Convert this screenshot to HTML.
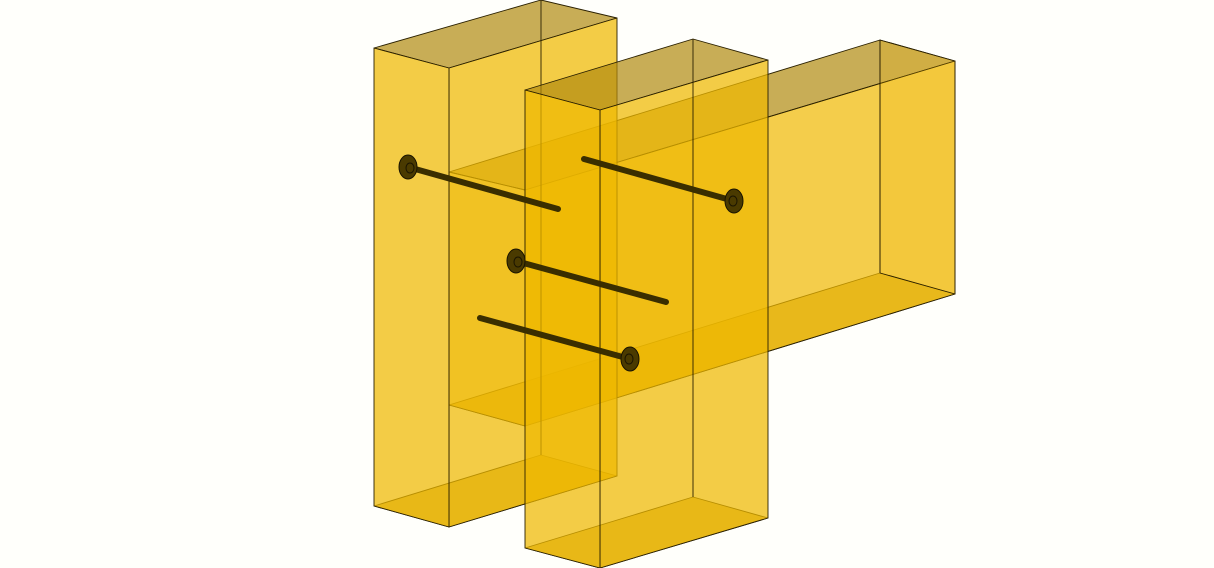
<!DOCTYPE html>
<html><head><meta charset="utf-8"><style>
html,body{margin:0;padding:0;background:#fffffb;}
svg{display:block}
</style></head><body>
<svg width="1214" height="568" viewBox="0 0 1214 568">
<g stroke="#2a2000" stroke-width="0.9" stroke-linejoin="round">
  <g>
    <polygon points="449,172 880,40 955,61 525,190" fill="#b08a10" fill-opacity="0.7"/>
    <polygon points="449,405 880,273 955,294 525,426" fill="#c9a01c" fill-opacity="0.72"/>
    <polygon points="525,190 955,61 955,294 525,426" fill="#efb800" fill-opacity="0.7"/>
    <polygon points="880,40 955,61 955,294 880,273" fill="#efb400" fill-opacity="0.2"/>
    <polygon points="449,172 525,190 525,426 449,405" fill="#efb400" fill-opacity="0.5"/>
    <line x1="880" y1="40" x2="880" y2="273"/>
  </g>
  <g>
    <polygon points="374,48 541,0 617,18 449,68" fill="#b08a10" fill-opacity="0.7"/>
    <polygon points="374,506 541,455 617,476 449,527" fill="#c9a01c" fill-opacity="0.75"/>
    <polygon points="449,68 617,18 617,476 449,527" fill="#efb800" fill-opacity="0.72"/>
    <polygon points="374,48 449,68 449,527 374,506" fill="#efb800" fill-opacity="0.72"/>
    <line x1="541" y1="0" x2="541" y2="455"/>
  </g>
  <g>
    <polygon points="525,90 693,39 768,60 600,110" fill="#b08a10" fill-opacity="0.7"/>
    <polygon points="525,548 693,497 768,518 600,568" fill="#c9a01c" fill-opacity="0.75"/>
    <polygon points="600,110 768,60 768,518 600,568" fill="#efb800" fill-opacity="0.72"/>
    <polygon points="525,90 600,110 600,568 525,548" fill="#efb800" fill-opacity="0.72"/>
    <line x1="693" y1="39" x2="693" y2="497"/>
  </g>
</g>
<g>
  <g>
    <line x1="408" y1="167" x2="558" y2="209" stroke="#3a2e00" stroke-width="6" stroke-linecap="round"/>
    <ellipse cx="408" cy="167" rx="9" ry="12" fill="#4a3a00" stroke="#1a1400"/>
    <ellipse cx="410" cy="168" rx="4" ry="5" fill="none" stroke="#1a1400"/>
  </g>
  <g>
    <line x1="584" y1="159" x2="734" y2="201" stroke="#3a2e00" stroke-width="6" stroke-linecap="round"/>
    <ellipse cx="734" cy="201" rx="9" ry="12" fill="#4a3a00" stroke="#1a1400"/>
    <ellipse cx="733" cy="201" rx="4" ry="5" fill="none" stroke="#1a1400"/>
  </g>
  <g>
    <line x1="516" y1="261" x2="666" y2="302" stroke="#3a2e00" stroke-width="6" stroke-linecap="round"/>
    <ellipse cx="516" cy="261" rx="9" ry="12" fill="#4a3a00" stroke="#1a1400"/>
    <ellipse cx="518" cy="262" rx="4" ry="5" fill="none" stroke="#1a1400"/>
  </g>
  <g>
    <line x1="480" y1="318" x2="630" y2="359" stroke="#3a2e00" stroke-width="6" stroke-linecap="round"/>
    <ellipse cx="630" cy="359" rx="9" ry="12" fill="#4a3a00" stroke="#1a1400"/>
    <ellipse cx="629" cy="359" rx="4" ry="5" fill="none" stroke="#1a1400"/>
  </g>
</g>
</svg>
</body></html>
